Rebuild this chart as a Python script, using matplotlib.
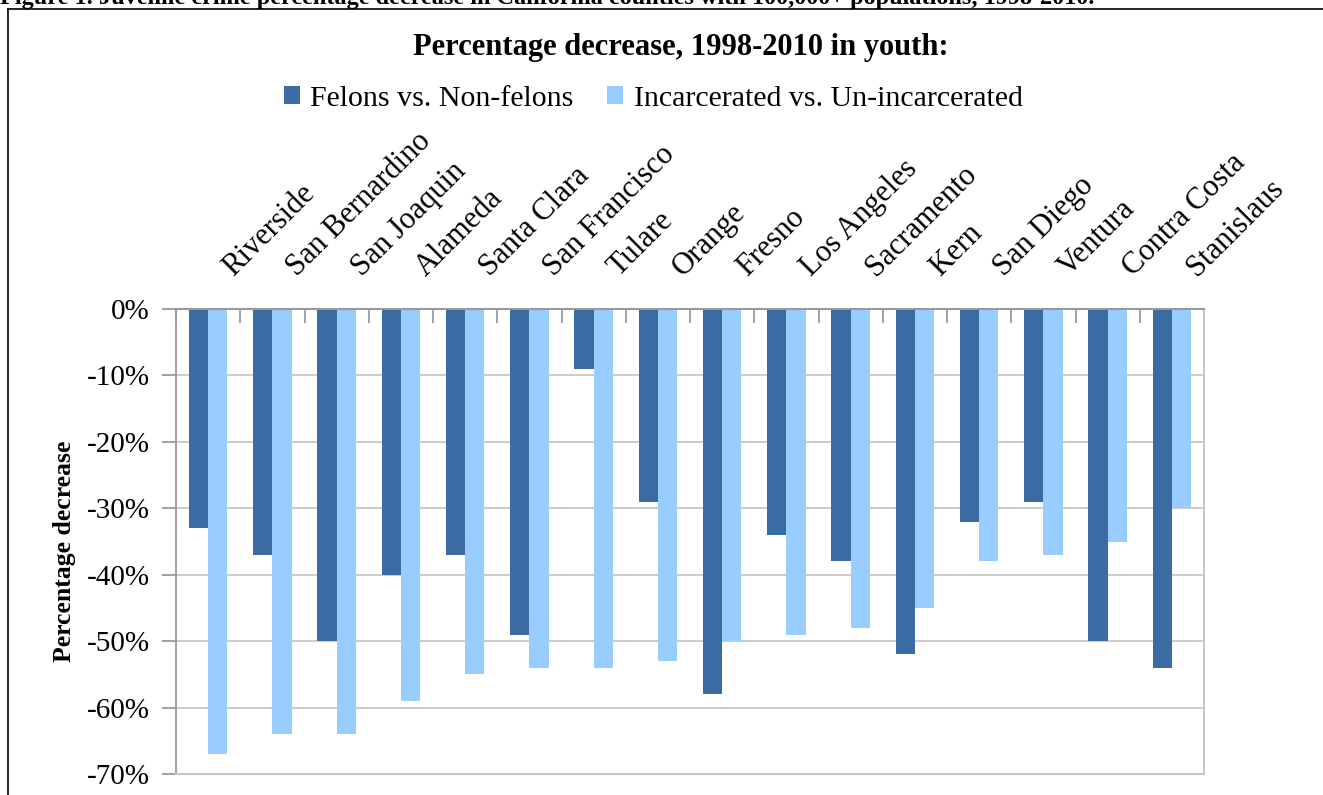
import numpy as np
import matplotlib
matplotlib.use("Agg")
import matplotlib.pyplot as plt
from matplotlib.lines import Line2D
from matplotlib.patches import Patch
import matplotlib.transforms as mtrans

counties = ["Riverside", "San Bernardino", "San Joaquin", "Alameda", "Santa Clara",
            "San Francisco", "Tulare", "Orange", "Fresno", "Los Angeles", "Sacramento",
            "Kern", "San Diego", "Ventura", "Contra Costa", "Stanislaus"]
felons = [-33, -37, -50, -40, -37, -49, -9, -29, -58, -34, -38, -52, -32, -29, -50, -54]
incarcerated = [-67, -64, -64, -59, -55, -54, -54, -53, -50, -49, -48, -45, -38, -37, -35, -30]
yticks = [0, -10, -20, -30, -40, -50, -60, -70]
ytick_labels = ["0%", "-10%", "-20%", "-30%", "-40%", "-50%", "-60%", "-70%"]

series_names = ["Felons vs. Non-felons", "Incarcerated vs. Un-incarcerated"]
dark = "#3A6CA3"
light = "#99CCFF"

plt.rcParams['font.family'] = ['Liberation Serif', 'DejaVu Serif']

W, H = 1323, 795
fig = plt.figure(figsize=(W / 100, H / 100), dpi=100)

def fx(px):
    return px / W

def fy(py):
    return 1 - py / H

left, right, top, bottom = 176, 1204, 309, 774
ax = fig.add_axes([fx(left), fy(bottom), fx(right - left), (bottom - top) / H])

x = np.arange(len(counties))
bw = 0.3
ax.bar(x - bw / 2, felons, width=bw, color=dark, label=series_names[0], zorder=3)
ax.bar(x + bw / 2, incarcerated, width=bw, color=light, label=series_names[1], zorder=3)

ax.set_xlim(-0.5, len(counties) - 0.5)
ax.set_ylim(-70, 0)

ax.set_yticks(yticks)
ax.set_yticklabels(ytick_labels)
ax.yaxis.grid(True, color="#c8c8c8", linewidth=1.3, zorder=0)
ax.set_axisbelow(True)
ax.tick_params(axis='y', direction='out', length=10, width=1.3, color="#9a9a9a",
               labelsize=21, pad=9)

ax.xaxis.set_ticks_position('top')
ax.set_xticks(np.arange(-0.5, len(counties), 1))
ax.tick_params(axis='x', direction='in', length=10, width=1.3, color="#9a9a9a",
               labeltop=False, labelbottom=False)

ax.spines['top'].set_color("#9a9a9a")
ax.spines['top'].set_linewidth(1.5)
ax.spines['top'].set_zorder(4)
ax.spines['left'].set_color("#9a9a9a")
ax.spines['left'].set_linewidth(1.3)
ax.spines['right'].set_color("#c8c8c8")
ax.spines['right'].set_linewidth(1.5)
ax.spines['bottom'].set_color("#c8c8c8")
ax.spines['bottom'].set_linewidth(1.5)

# rotated category labels above the plot
off = mtrans.ScaledTranslation(25 / 100, 32 / 100, fig.dpi_scale_trans)
trans = mtrans.blended_transform_factory(ax.transData, ax.transAxes) + off
for xi, name in zip(x, counties):
    ax.text(xi, 1.0, name, transform=trans, rotation=45, rotation_mode='anchor',
            ha='left', va='baseline', fontsize=22, clip_on=False)

fig.text(fx(65), fy(551), "Percentage decrease", fontsize=18.5, fontweight='bold',
         rotation=90, ha='center', va='center')

# chart title and legend
fig.text(fx(681), fy(48), "Percentage decrease, 1998-2010 in youth:", fontsize=22,
         fontweight='bold', ha='center', va='center')
handles = [Patch(facecolor=dark, edgecolor='none'), Patch(facecolor=light, edgecolor='none')]
fig.legend(handles, series_names, loc='center', bbox_to_anchor=(fx(653), fy(99)),
           ncol=2, frameon=False, fontsize=21.5, handlelength=0.55, handleheight=0.55,
           handletextpad=0.35, columnspacing=1.1, borderpad=0, borderaxespad=0)

# figure caption (cut at top) and outer frame
fig.text(0, fy(4), "Figure 1. Juvenile crime percentage decrease in California counties with 100,000+ populations, 1998-2010.",
         fontsize=17.5, fontweight='bold', ha='left', va='baseline')
fig.add_artist(Line2D([fx(7.5), fx(7.5)], [fy(8.5), fy(900)], color='black', linewidth=1.2))
fig.add_artist(Line2D([fx(7.5), fx(1400)], [fy(8.5), fy(8.5)], color='black', linewidth=1.2))

fig.savefig("out.png", dpi=100)
